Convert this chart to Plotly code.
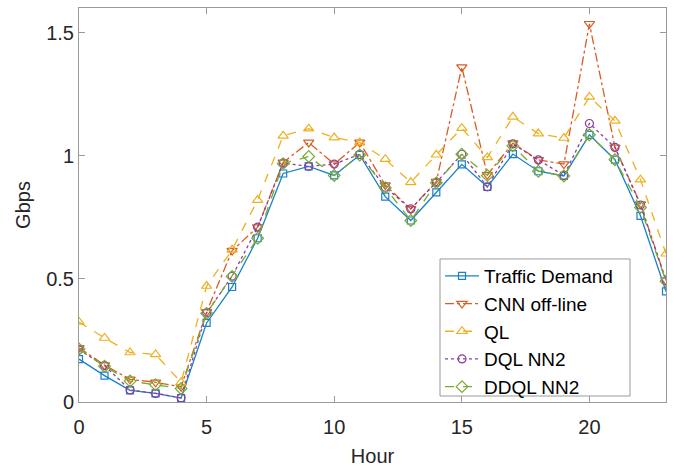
import plotly.graph_objects as go

hours = list(range(24))
traffic_demand = [0.174, 0.107, 0.047, 0.035, 0.016, 0.321, 0.467, 0.665, 0.928, 0.957,
                  0.920, 1.003, 0.834, 0.737, 0.851, 0.965, 0.874, 1.007, 0.937, 0.918,
                  1.085, 0.984, 0.756, 0.449]
cnn_offline = [0.220, 0.150, 0.092, 0.080, 0.062, 0.366, 0.615, 0.710, 0.973, 1.054,
               0.966, 1.054, 0.881, 0.784, 0.895, 1.360, 0.923, 1.051, 0.983, 0.966,
               1.536, 1.034, 0.804, 0.494]
ql = [0.325, 0.260, 0.201, 0.193, 0.080, 0.471, 0.618, 0.820, 1.081, 1.110,
      1.074, 1.054, 0.986, 0.892, 1.004, 1.112, 0.993, 1.158, 1.090, 1.072,
      1.239, 1.142, 0.903, 0.602]
dql_nn2 = [0.212, 0.148, 0.049, 0.035, 0.017, 0.362, 0.511, 0.710, 0.970, 0.957,
           0.966, 1.006, 0.872, 0.784, 0.892, 1.006, 0.874, 1.048, 0.983, 0.920,
           1.131, 1.034, 0.800, 0.492]
ddql_nn2 = [0.215, 0.145, 0.085, 0.070, 0.055, 0.360, 0.510, 0.665, 0.968, 0.997,
            0.920, 1.003, 0.870, 0.737, 0.890, 1.006, 0.920, 1.040, 0.937, 0.918,
            1.085, 0.984, 0.790, 0.490]

x_ticks = [0, 5, 10, 15, 20]
y_ticks = [0, 0.5, 1, 1.5]
y_tick_labels = ["0", "0.5", "1", "1.5"]

series = [
    ("Traffic Demand", traffic_demand, "#1a80c8", "solid", "square-open", 7),
    ("CNN off-line", cnn_offline, "#DB5C25", "dashdot", "triangle-down-open", 9),
    ("QL", ql, "#EDB120", "dash", "triangle-up-open", 9),
    ("DQL NN2", dql_nn2, "#8A3F9E", "dot", "circle-open", 8),
    ("DDQL NN2", ddql_nn2, "#77AC30", "dash", "diamond-open", 9),
]

fig = go.Figure()
for name, vals, color, dash, symbol, size in series:
    fig.add_trace(go.Scatter(
        x=hours, y=vals, name=name, mode="lines+markers",
        line=dict(color=color, width=1.3, dash=dash),
        marker=dict(symbol=symbol, size=size, color=color, line=dict(color=color, width=1.2)),
    ))

family = "Liberation Sans, Arial, Helvetica, sans-serif"
font = dict(family=family, size=20, color="#262626")
axis_common = dict(
    showline=True, linecolor="#9a9a9a", linewidth=1, mirror="ticks",
    ticks="inside", ticklen=6, tickcolor="#9a9a9a", showgrid=False, zeroline=False,
    tickfont=font,
)

# legend frame drawn as a shape so its padding matches the reference
fig.add_shape(type="rect", xref="paper", yref="paper",
              x0=0.615, x1=0.9387, y0=0.0152, y1=0.363,
              line=dict(color="#9a9a9a", width=1), fillcolor="white", layer="below")

fig.update_layout(
    width=685, height=471,
    margin=dict(l=79, r=19, t=8, b=69),
    paper_bgcolor="white", plot_bgcolor="white",
    font=font,
    showlegend=True,
    legend=dict(
        x=0.615, y=0.368, xanchor="left", yanchor="top",
        bgcolor="rgba(0,0,0,0)", borderwidth=0,
        font=dict(family=family, size=19, color="#000000"),
        itemwidth=34, tracegroupgap=0,
    ),
)
fig.update_xaxes(range=[0, 23], tickvals=x_ticks, ticktext=[str(v) for v in x_ticks],
                 ticklabelstandoff=7,
                 title=dict(text="Hour", font=font, standoff=11), **axis_common)
fig.update_yaxes(range=[0, 1.6], tickvals=y_ticks, ticktext=y_tick_labels,
                 title=dict(text="Gbps", font=font, standoff=10), **axis_common)

fig.write_html("out.html")
